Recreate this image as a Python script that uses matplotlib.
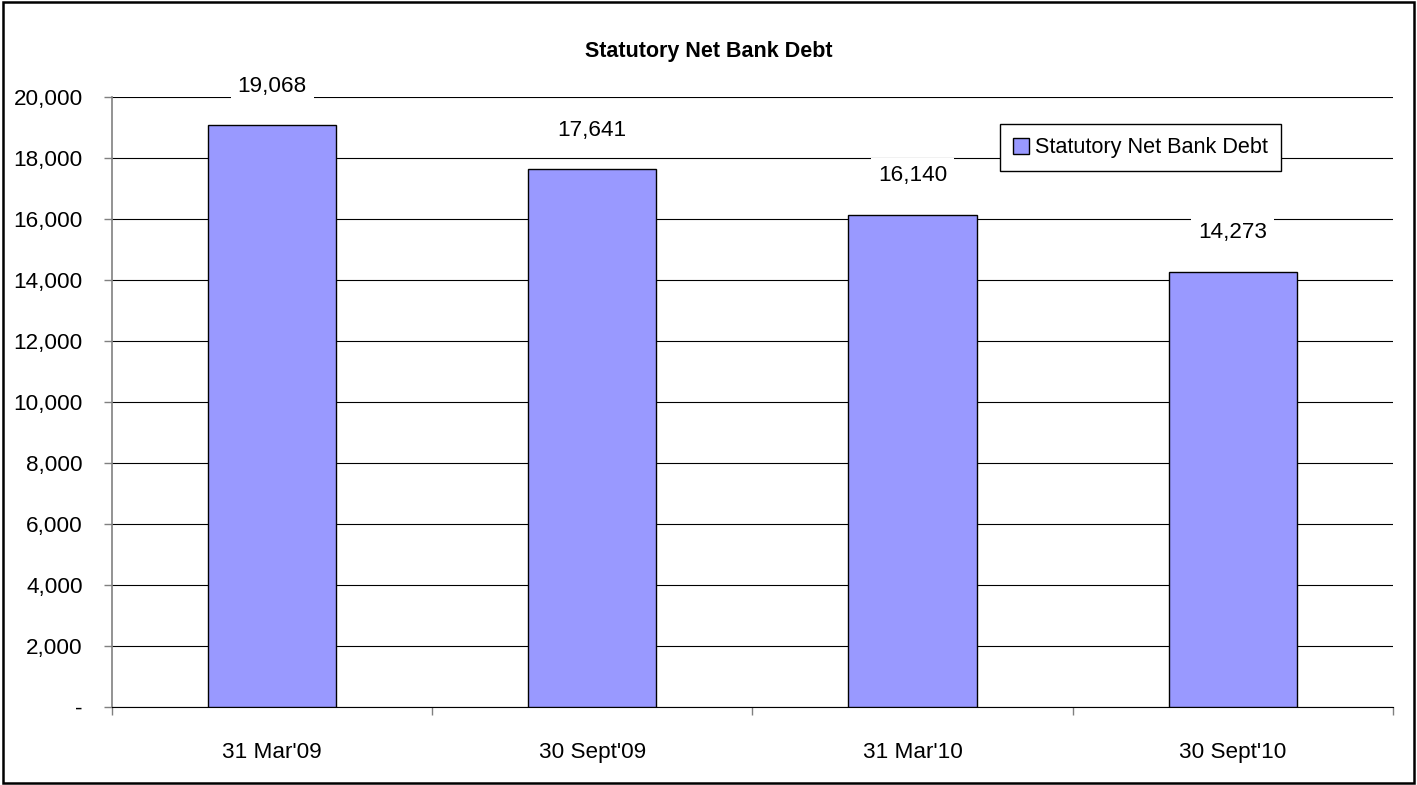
import matplotlib.pyplot as plt
from matplotlib.ticker import FuncFormatter, FixedLocator
from matplotlib.patches import Rectangle

plt.rcParams['font.family'] = ['Liberation Sans', 'DejaVu Sans']

# data
categories = ["31 Mar'09", "30 Sept'09", "31 Mar'10", "30 Sept'10"]
debt = [19068, 17641, 16140, 14273]
series_name = 'Statutory Net Bank Debt'

bar_color = '#9999FF'
fs = 16.2

fig = plt.figure(figsize=(14.17, 7.85), dpi=100)
ax = fig.add_axes([0.079, 0.0994, 0.904, 0.777])

x = list(range(len(categories)))
ax.bar(x, debt, width=0.4, color=bar_color, edgecolor='black', linewidth=1.0,
       label=series_name, zorder=3)

# value labels above the bars, white box breaks the gridline
for xi, v in zip(x, debt):
    ax.annotate(f'{v:,}', (xi, v), xytext=(0, 28), textcoords='offset points',
                ha='center', va='center', fontsize=fs, zorder=5,
                bbox=dict(fc='white', ec='none', pad=5))

ax.set_xlim(-0.5, len(categories) - 0.5)
ax.set_ylim(0, 20000)
ax.yaxis.set_major_locator(FixedLocator(range(0, 20001, 2000)))
ax.yaxis.set_major_formatter(FuncFormatter(lambda v, p: '-' if v == 0 else f'{int(v):,}'))
ax.grid(axis='y', color='black', linewidth=0.8, zorder=0)
ax.set_axisbelow(True)

ax.set_xticks(x)
ax.set_xticklabels(categories)
ax.set_xticks([i - 0.5 for i in range(len(categories) + 1)], minor=True)
ax.tick_params(axis='x', which='major', length=0, pad=25, labelsize=fs)
ax.tick_params(axis='x', which='minor', length=6, width=1, color='#808080', direction='out')
ax.tick_params(axis='y', length=6, width=1, color='#808080', pad=15, labelsize=fs)

for s in ['top', 'right']:
    ax.spines[s].set_visible(False)
ax.spines['left'].set_color('#808080')
ax.spines['left'].set_linewidth(1.2)
ax.spines['bottom'].set_color('black')
ax.spines['bottom'].set_linewidth(0.8)

fig.text(0.5, 0.934, series_name, ha='center', va='center', fontsize=15.5, fontweight='bold')

leg = ax.legend(loc='upper left', bbox_to_anchor=(0.693, 0.955), fontsize=15.6,
                frameon=True, fancybox=False, borderpad=0.6, handlelength=0.75,
                handleheight=0.75, handletextpad=0.3, borderaxespad=0)
leg.get_frame().set_edgecolor('black')
leg.get_frame().set_linewidth(1.0)
leg.get_frame().set_alpha(1)

# outer chart border
fig.patches.append(Rectangle((0.002, 0.003), 0.996, 0.994, transform=fig.transFigure,
                             fill=False, edgecolor='black', linewidth=1.8))

fig.savefig('out.png', dpi=100)
